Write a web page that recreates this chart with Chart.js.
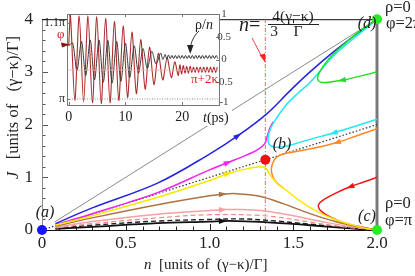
<!DOCTYPE html>
<html><head><meta charset="utf-8">
<script src="https://cdn.jsdelivr.net/npm/chart.js@4.4.1/dist/chart.umd.min.js"></script>
<style>
html,body{margin:0;padding:0;background:#fff;}
#wrap{position:relative;width:415px;height:276px;overflow:hidden;background:#fff;}
#wrap canvas{position:absolute;left:0;top:0;}
</style></head><body>
<div id="wrap"><canvas id="main" width="415" height="276"></canvas><canvas id="inset" width="415" height="276"></canvas></div>
<script>
// ---------- main plot: tick values ----------
const nTickValues = [0, 0.5, 1.0, 1.5, 2.0];
const jTickValues = [0, 1, 2, 3, 4];

// ---------- main plot: trajectories (n, J) ----------
const grayN = [0.075, 2.0];
const grayJ = [0.15, 4.0];
const diagN = [0, 2.0];
const diagJ = [0, 2.0];
const critN = [1.3333, 1.3333];
const critJ = [0, 4];

const blueN = [0.08, 0.3, 0.69, 1.0, 1.17, 1.34, 1.48, 1.6, 1.74, 1.87, 2.0];
const blueJ = [0.12, 0.42, 0.89, 1.44, 1.79, 2.2, 2.64, 3.0, 3.38, 3.7, 4.0];
const magentaN = [0.08, 0.3, 0.69, 1.0, 1.11, 1.22, 1.29, 1.33, 1.345, 1.36, 1.38];
const magentaJ = [0.10, 0.31, 0.71, 1.14, 1.28, 1.42, 1.53, 1.64, 1.78, 1.93, 2.05];
const cyanN = [2.0, 1.87, 1.74, 1.6, 1.48, 1.42, 1.38, 1.355, 1.35, 1.365, 1.4, 1.46, 1.53, 1.6, 1.74, 1.87, 2.0];
const cyanJ = [2.1, 1.97, 1.84, 1.72, 1.61, 1.57, 1.58, 1.63, 1.75, 1.93, 2.12, 2.38, 2.6, 2.8, 3.3, 3.66, 4.0];
const yellowN = [0.08, 0.3, 0.69, 1.0, 1.11, 1.22, 1.3, 1.34, 1.36, 1.4, 1.46, 1.55, 1.65, 1.75, 1.85, 1.93, 2.0];
const yellowJ = [0.09, 0.27, 0.62, 0.94, 1.07, 1.16, 1.2, 1.16, 1.05, 0.9, 0.75, 0.53, 0.34, 0.2, 0.1, 0.035, 0];
const orangeN = [2.0, 1.88, 1.76, 1.62, 1.52, 1.45, 1.41, 1.385, 1.37, 1.375, 1.40, 1.44];
const orangeJ = [1.92, 1.79, 1.66, 1.55, 1.49, 1.45, 1.40, 1.32, 1.18, 1.04, 0.9, 0.8];
const redN = [2.0, 1.92, 1.84, 1.76, 1.7, 1.66, 1.65, 1.67, 1.72, 1.8, 1.9, 2.0];
const redJ = [1.0, 0.91, 0.82, 0.71, 0.61, 0.52, 0.44, 0.35, 0.25, 0.14, 0.06, 0];
const greenN = [2.0, 1.9, 1.79, 1.7, 1.66, 1.645, 1.655, 1.7, 1.76, 1.82, 1.88, 1.94, 2.0];
const greenJ = [3.0, 2.92, 2.84, 2.8, 2.81, 2.87, 2.98, 3.2, 3.4, 3.57, 3.73, 3.87, 4.0];
const brownN = [0.08, 0.3, 0.69, 1.0, 1.08, 1.16, 1.3, 1.44, 1.6, 1.75, 1.9, 2.0];
const brownJ = [0.07, 0.23, 0.48, 0.65, 0.68, 0.69, 0.64, 0.5, 0.31, 0.16, 0.05, 0];
const pinkN = [0.08, 0.3, 0.69, 1.0, 1.08, 1.15, 1.33, 1.5, 1.7, 1.9, 2.0];
const pinkJ = [0.05, 0.16, 0.3, 0.37, 0.385, 0.39, 0.36, 0.27, 0.14, 0.04, 0];
const pinkDashN = [0.08, 0.3, 0.69, 1.0, 1.33, 1.6, 1.8, 2.0];
const pinkDashJ = [0.04, 0.12, 0.23, 0.29, 0.27, 0.15, 0.06, 0];
const blackDashN = [0.08, 0.3, 0.69, 1.0, 1.2, 1.4, 1.6, 1.8, 2.0];
const blackDashJ = [0.03, 0.09, 0.17, 0.2, 0.21, 0.17, 0.11, 0.05, 0];
const blackN = [0.08, 0.3, 0.69, 1.0, 1.08, 1.15, 1.33, 1.6, 1.8, 2.0];
const blackJ = [0.02, 0.06, 0.13, 0.16, 0.17, 0.17, 0.15, 0.09, 0.04, 0];

// fixed points (a) (b) (c) (d)
const fixedN = [0, 1.3333, 2, 2];
const fixedJ = [0, 1.3333, 0, 4];
const fixedColors = ['#1515ff', '#ee1111', '#22ee22', '#22ee22'];

// ---------- inset: time traces ----------
const tTickValues = [0, 10, 20];
const phiTickValues = [1, 1.1];          // units of pi
const phiTickLabels = ['π', '1.1π'];
const rhoTickValues = [-1, -0.5, 0, 0.5, 1];
const rhoTickLabels = ['-1', '-0.5', '0', '0.5', '1'];
const phiT = [0, 0.3, 1.08, 1.85, 2.63, 3.4, 4.18, 4.95, 5.73, 6.5, 7.28, 8.05, 8.83, 9.6, 10.38, 11.15, 11.93, 12.7, 13.48, 14.25, 15.03, 15.8, 16.58, 17.35, 18.1, 18.7, 19.3, 19.6, 19.9, 20.2, 20.5, 20.8, 21.1, 21.4, 21.7, 22.0, 22.3, 22.6, 22.9, 23.2, 23.5, 23.8, 24.1, 24.4, 24.7, 25.0, 25.3, 25.6, 25.9, 26.2];
const phiV = [1.07, 1.110, 0.998, 1.109, 0.996, 1.109, 0.995, 1.108, 0.994, 1.106, 0.995, 1.102, 0.998, 1.096, 1.002, 1.088, 1.007, 1.078, 1.013, 1.068, 1.019, 1.060, 1.025, 1.054, 1.028, 1.049, 1.031, 1.045, 1.033, 1.044, 1.034, 1.043, 1.034, 1.043, 1.035, 1.042, 1.035, 1.042, 1.035, 1.042, 1.035, 1.042, 1.035, 1.042, 1.035, 1.042, 1.035, 1.042, 1.035, 1.042];
const rhoT = [0, 0.7, 1.45, 2.25, 3.0, 3.8, 4.55, 5.35, 6.1, 6.9, 7.65, 8.45, 9.2, 10.0, 10.75, 11.55, 12.3, 13.1, 13.85, 14.65, 15.4, 16.2, 16.6, 17.0, 17.3, 17.6, 17.9, 18.2, 18.5, 18.8, 19.1, 19.4, 19.7, 20.0, 20.3, 20.6, 20.9, 21.2, 21.5, 21.8, 22.1, 22.4, 22.7, 23.0, 23.3, 23.6, 23.9, 24.2, 24.5, 24.8, 25.1, 25.4, 25.7, 26.0, 26.3];
const rhoV = [0.3, 0.36, -0.25, 0.40, -0.35, 0.43, -0.45, 0.43, -0.50, 0.42, -0.52, 0.40, -0.48, 0.36, -0.40, 0.30, -0.30, 0.24, -0.20, 0.18, -0.10, 0.14, 0.0, 0.11, 0.01, 0.1, 0.02, 0.09, 0.02, 0.09, 0.02, 0.09, 0.02, 0.09, 0.02, 0.09, 0.02, 0.09, 0.02, 0.09, 0.02, 0.09, 0.02, 0.09, 0.02, 0.09, 0.02, 0.09, 0.02, 0.09, 0.02, 0.09, 0.02, 0.09, 0.02];
const refT = [-0.3, 26.5];
const piLineV = [1, 1];
const shiftLineV = [1.038, 1.038];

// ---------- helpers ----------
const SERIF = "'Liberation Serif','DejaVu Serif',serif";
function pts(xs, ys) { return xs.map((v, i) => ({x: v, y: ys[i]})); }
function curve(xs, ys, color, width, extra) {
  return Object.assign({data: pts(xs, ys), borderColor: color, borderWidth: width, showLine: true,
    pointRadius: 0, tension: 0.35, fill: false}, extra || {});
}
function txt(ctx, parts, x, y) {
  for (const p of parts) { ctx.font = p[1]; if (p[2]) ctx.fillStyle = p[2]; ctx.fillText(p[0], x, y); x += ctx.measureText(p[0]).width; }
  return x;
}
function lineP(ctx, x1, y1, x2, y2) { ctx.beginPath(); ctx.moveTo(x1, y1); ctx.lineTo(x2, y2); ctx.stroke(); }

const arrowSpec = [];
const datasets = [];
datasets.push({data: pts(fixedN, fixedJ), showLine: false, pointRadius: 5, pointBackgroundColor: fixedColors, pointBorderWidth: 0, clip: false});
function addCurve(ds, arrowIdx, color) { datasets.push(ds); if (arrowIdx !== null) arrowSpec.push([datasets.length - 1, arrowIdx, color]); }
addCurve(curve(greenN, greenJ, '#1ee01e', 1.5), 2, '#1ee01e');
addCurve(curve(cyanN, cyanJ, '#22e6f4', 1.5), 2, '#22e6f4');
addCurve(curve(blueN, blueJ, '#2424e0', 1.5), 4, '#2424e0');
addCurve(curve(yellowN, yellowJ, '#f6e800', 1.5), 4, '#f6e800');
addCurve(curve(orangeN, orangeJ, '#ff8a22', 1.5), 2, '#ff8a22');
addCurve(curve(magentaN, magentaJ, '#f022f0', 1.5), 4, '#f022f0');
addCurve(curve(redN, redJ, '#ee1515', 1.5), 2, '#ee1515');
addCurve(curve(brownN, brownJ, '#ac7444', 1.5), 4, '#ac7444');
addCurve(curve(pinkN, pinkJ, '#f4a2a2', 1.5), 4, '#f4a2a2');
addCurve(curve(pinkDashN, pinkDashJ, '#f08a8a', 1.2, {borderDash: [5, 3]}), null);
addCurve(curve(blackN, blackJ, '#111111', 1.8), 4, '#111111');
addCurve(curve(blackDashN, blackDashJ, '#222222', 1.4, {borderDash: [5, 3]}), null);
addCurve(curve(diagN, diagJ, '#333333', 1.2, {borderDash: [1.5, 2], tension: 0}), null);
addCurve(curve(grayN, grayJ, '#8a8a8a', 1, {tension: 0}), null);
addCurve(curve(critN, critJ, '#ff6060', 1, {borderDash: [4, 2, 1, 2], tension: 0}), null);

const mainDecor = {
  id: 'mainDecor',
  beforeDatasetsDraw(chart) {
    const {ctx, chartArea: a, scales: {x, y}} = chart;
    ctx.save();
    ctx.lineWidth = 1;
    ctx.strokeStyle = '#222';
    for (let i = 0; i <= 20; i++) {
      const px = Math.round(x.getPixelForValue(i / 10)) + 0.5;
      lineP(ctx, px, a.bottom, px, a.bottom - (i % 5 === 0 ? 6 : 3.5));
    }
    for (let i = 1; i < 4; i++) {
      const px = Math.round(x.getPixelForValue(i / 2)) + 0.5;
      lineP(ctx, px, a.top, px, a.top + 4);
    }
    ctx.strokeStyle = '#555';
    for (let i = 0; i <= 20; i++) {
      const py = Math.round(y.getPixelForValue(i / 5)) + 0.5;
      lineP(ctx, a.left, py, a.left + (i % 5 === 0 ? 6 : 3.5), py);
    }
    ctx.strokeStyle = '#8a8a8a'; ctx.lineWidth = 1;
    lineP(ctx, a.left + 0.5, a.top, a.left + 0.5, a.bottom);
    ctx.strokeStyle = '#111';
    lineP(ctx, a.left, a.top + 0.5, a.right, a.top + 0.5);
    lineP(ctx, a.left, a.bottom + 0.5, a.right, a.bottom + 0.5);
    ctx.strokeStyle = '#7a7a7a'; ctx.lineWidth = 3;
    lineP(ctx, a.right, a.top, a.right, a.bottom + 1);
    ctx.restore();
  },
  afterDatasetsDraw(chart) {
    const {ctx} = chart;
    ctx.save();
    for (const [di, k, col] of arrowSpec) {
      const d = chart.getDatasetMeta(di).data;
      const p = d[k], q = d[k + 1], r = d[k - 1];
      let dx = q.x - r.x, dy = q.y - r.y; const L = Math.hypot(dx, dy); dx /= L; dy /= L;
      const tx = p.x + dx * 4, ty = p.y + dy * 4, bx = p.x - dx * 4, by = p.y - dy * 4;
      ctx.fillStyle = col;
      ctx.beginPath(); ctx.moveTo(tx, ty); ctx.lineTo(bx - dy * 2.8, by + dx * 2.8); ctx.lineTo(bx + dy * 2.8, by - dx * 2.8); ctx.closePath(); ctx.fill();
    }
    ctx.textBaseline = 'middle';
    ctx.fillStyle = '#222';
    const it = 'italic 16px ' + SERIF, rm = '16.5px ' + SERIF;
    ctx.textAlign = 'center';
    ctx.font = it;
    ctx.fillText('(a)', 45, 213);
    ctx.fillText('(b)', 282, 145);
    ctx.fillText('(c)', 367, 217);
    ctx.fillText('(d)', 367, 24);
    ctx.textAlign = 'left';
    ctx.font = rm;
    ctx.fillText('ρ=0', 385, 8);
    ctx.fillText('φ=2π', 386, 24);
    ctx.fillText('ρ=0', 385, 204);
    ctx.fillText('φ=π', 385, 221);
    // formula
    txt(ctx, [['n', 'italic 20px ' + SERIF, '#222'], ['=', '20px ' + SERIF]], 239, 26);
    ctx.font = '15.5px ' + SERIF; ctx.textAlign = 'center';
    ctx.fillText('4(γ−κ)', 293, 17);
    ctx.fillText('3', 274, 32);
    ctx.fillText('Γ', 298, 32);
    ctx.strokeStyle = '#222'; ctx.lineWidth = 1;
    lineP(ctx, 268, 24.5, 319, 24.5);
    ctx.strokeStyle = '#ff4040'; ctx.fillStyle = '#ff2020';
    lineP(ctx, 252, 38, 262, 57);
    ctx.beginPath(); ctx.moveTo(265.5, 63); ctx.lineTo(259.5, 55); ctx.lineTo(265, 53.5); ctx.closePath(); ctx.fill();
    // axis titles
    ctx.fillStyle = '#222'; ctx.textAlign = 'left';
    txt(ctx, [['n', 'italic 15px ' + SERIF], ['  [units of  (γ−κ)/Γ]', '15px ' + SERIF]], 144, 265);
    ctx.translate(14, 179); ctx.rotate(-Math.PI / 2);
    txt(ctx, [['J', 'italic 16.5px ' + SERIF], ['   [units of   (γ−κ)/Γ]', '16.5px ' + SERIF]], 0, 0);
    ctx.restore();
  }
};

new Chart(document.getElementById('main'), {
  type: 'scatter',
  data: {datasets},
  options: {
    responsive: false, animation: false, events: [],
    layout: {padding: {left: 0, top: 6, right: 38, bottom: 0}},
    plugins: {legend: {display: false}, tooltip: {enabled: false}},
    scales: {
      x: {type: 'linear', min: 0, max: 2,
        afterBuildTicks: s => { s.ticks = nTickValues.map(v => ({value: v})); },
        ticks: {callback: v => (v === 0 ? '0' : Number(v).toFixed(1)), font: {family: SERIF, size: 17}, color: '#222', padding: 3, autoSkip: false, maxRotation: 0},
        grid: {display: false, drawTicks: false}, border: {display: false},
        afterFit: s => { s.height = 46; }},
      y: {type: 'linear', min: 0, max: 4,
        afterBuildTicks: s => { s.ticks = jTickValues.map(v => ({value: v})); },
        ticks: {font: {family: SERIF, size: 17}, color: '#222', padding: 9, autoSkip: false},
        grid: {display: false, drawTicks: false}, border: {display: false},
        afterFit: s => { s.width = 42; }}
    }
  },
  plugins: [mainDecor]
});

// ---------- inset ----------
const insetDecor = {
  id: 'insetDecor',
  beforeDraw(chart) {
    const {ctx, chartArea: a} = chart;
    ctx.save(); ctx.fillStyle = '#fff'; ctx.fillRect(a.left, a.top, a.right - a.left, a.bottom - a.top);
    ctx.fillRect(201, 110, 31, 16);
    ctx.restore();
  },
  afterDraw(chart) {
    const {ctx, chartArea: a, scales: {x, yL, yR}} = chart;
    ctx.save();
    ctx.strokeStyle = '#777'; ctx.lineWidth = 1;
    ctx.strokeRect(a.left + 0.5, a.top + 0.5, a.right - a.left, a.bottom - a.top);
    for (const v of tTickValues) {
      const px = Math.round(x.getPixelForValue(v)) + 0.5;
      lineP(ctx, px, a.bottom, px, a.bottom - 3); lineP(ctx, px, a.top, px, a.top + 3);
    }
    for (const v of phiTickValues) { const py = Math.round(yL.getPixelForValue(v)) + 0.5; lineP(ctx, a.left, py, a.left + 3, py); }
    for (const v of rhoTickValues) { const py = Math.round(yR.getPixelForValue(v)) + 0.5; lineP(ctx, a.right, py, a.right - 3, py); }
    ctx.textBaseline = 'middle';
    ctx.fillStyle = '#222'; ctx.font = '14px ' + SERIF; ctx.textAlign = 'center';
    for (const v of tTickValues) ctx.fillText(String(v), x.getPixelForValue(v), a.bottom + 12);
    ctx.font = '12px ' + SERIF; ctx.textAlign = 'right';
    phiTickValues.forEach((v, i) => ctx.fillText(phiTickLabels[i], a.left - 2, yL.getPixelForValue(v)));
    ctx.fillStyle = '#444'; ctx.font = '11px ' + SERIF; ctx.textAlign = 'center';
    rhoTickValues.forEach((v, i) => ctx.fillText(rhoTickLabels[i], a.right + 5, Math.min(yR.getPixelForValue(v), a.bottom - 3)));
    ctx.textAlign = 'left';
    ctx.fillStyle = '#d02020'; ctx.font = '13px ' + SERIF; ctx.fillText('φ', 57, 35);
    ctx.fillStyle = '#8b1010';
    ctx.beginPath(); ctx.moveTo(61, 42.5); ctx.lineTo(70, 44.5); ctx.lineTo(62, 47.5); ctx.closePath(); ctx.fill();
    ctx.fillStyle = '#222';
    txt(ctx, [['ρ/', '14px ' + SERIF], ['n', 'italic 14px ' + SERIF]], 195, 25);
    ctx.strokeStyle = '#222'; ctx.lineWidth = 0.9;
    ctx.beginPath(); ctx.moveTo(199, 31); ctx.quadraticCurveTo(193, 36, 190.5, 46); ctx.stroke();
    ctx.beginPath(); ctx.moveTo(187, 45); ctx.lineTo(193.5, 45); ctx.lineTo(190.3, 54); ctx.closePath(); ctx.fill();
    ctx.fillStyle = '#e02020'; ctx.font = '13px ' + SERIF; ctx.fillText('π+2κ', 191, 80);
    ctx.fillStyle = '#222';
    txt(ctx, [['t', 'italic 14px ' + SERIF], ['(ps)', '14px ' + SERIF]], 203, 118);
    ctx.restore();
  }
};

new Chart(document.getElementById('inset'), {
  type: 'scatter',
  data: {datasets: [
    {data: pts(refT, piLineV), yAxisID: 'yL', borderColor: '#888', borderWidth: 1, borderDash: [1, 1.5], showLine: true, pointRadius: 0},
    {data: pts(refT, shiftLineV), yAxisID: 'yL', borderColor: '#f2b0b0', borderWidth: 0.8, showLine: true, pointRadius: 0},
    {data: pts(rhoT, rhoV), yAxisID: 'yR', borderColor: '#3a3a3a', borderWidth: 1, showLine: true, pointRadius: 0, tension: 0.3},
    {data: pts(phiT, phiV), yAxisID: 'yL', borderColor: '#ac2c2c', borderWidth: 1.1, showLine: true, pointRadius: 0, tension: 0.3}
  ]},
  options: {
    responsive: false, animation: false, events: [],
    layout: {padding: {left: 67, top: 14, right: 196, bottom: 171}},
    plugins: {legend: {display: false}, tooltip: {enabled: false}},
    scales: {
      x: {type: 'linear', min: -0.3, max: 26.5, ticks: {display: false},
        grid: {display: false, drawTicks: false}, border: {display: false},
        afterFit: s => { s.height = 0; }},
      yL: {type: 'linear', position: 'left', min: 0.9921, max: 1.1118, ticks: {display: false},
        grid: {display: false, drawTicks: false}, border: {display: false},
        afterFit: s => { s.width = 0; }},
      yR: {type: 'linear', position: 'right', min: -1, max: 1, ticks: {display: false},
        grid: {display: false, drawTicks: false}, border: {display: false},
        afterFit: s => { s.width = 0; }}
    }
  },
  plugins: [insetDecor]
});
</script>
</body></html>
